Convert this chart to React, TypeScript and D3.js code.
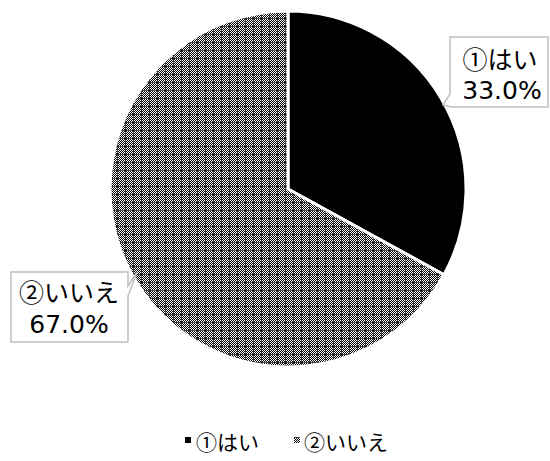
import React from "react";
import * as d3 from "d3";

const categories = ["①はい", "②いいえ"];
const values = [33.0, 67.0];
const pctLabels = ["33.0%", "67.0%"];

const W = 550, H = 461;
const cx = 288, cy = 189, R = 178;
const JFONT = "'Noto Sans CJK JP', sans-serif";
const NFONT = "'DejaVu Sans', sans-serif";

const tile = [
  "BWBWBGBW",
  "WBWBWGWB",
  "BWBWBGBW",
  "WBWBWGWB",
  "BWBWBGBW",
  "GGGGGBGG",
  "BWBWBGBW",
  "WBWBWGWB",
];
const colMap: Record<string, string> = { B: "#000", W: "#fff", G: "#444" };

export default function App() {
  const pie = d3.pie<number>().sort(null).value((d) => d);
  const arcs = pie(values);
  const arc = d3.arc<d3.PieArcDatum<number>>().innerRadius(0).outerRadius(R);
  const fills = ["#000", "url(#pat)"];

  return (
    <svg width={W} height={H} style={{ position: "absolute", left: 0, top: 0, background: "#fff" }}>
      <defs>
        <pattern id="pat" patternUnits="userSpaceOnUse" width={8} height={8}>
          {tile.flatMap((row, y) =>
            row.split("").map((c, x) => (
              <rect key={`${x}-${y}`} x={x} y={y} width={1} height={1} fill={colMap[c]} shapeRendering="crispEdges" />
            ))
          )}
        </pattern>
      </defs>
      <g transform={`translate(${cx},${cy})`}>
        {arcs.map((a, i) => (
          <path key={i} d={arc(a) || ""} fill={fills[i]} stroke="#fff" strokeWidth={3} strokeLinejoin="round" />
        ))}
      </g>
      {/* label 1 */}
      <path d="M450,37 H548 V107 H452 L443,105 L450,94 Z" fill="#fff" stroke="#bfbfbf" strokeWidth={1.5} />
      <text x={500} y={69} textAnchor="middle" fontFamily={JFONT} fontSize={25} fill="#000">{categories[0]}</text>
      <text x={502} y={99} textAnchor="middle" fontFamily={NFONT} fontSize={25} fill="#000">{pctLabels[0]}</text>
      {/* label 2 */}
      <path d="M11,272 H128 V286 L137,272 L128,296 V342 H11 Z" fill="#fff" stroke="#bfbfbf" strokeWidth={1.5} />
      <text x={69} y={302} textAnchor="middle" fontFamily={JFONT} fontSize={25} fill="#000">{categories[1]}</text>
      <text x={69} y={333} textAnchor="middle" fontFamily={NFONT} fontSize={25} fill="#000">{pctLabels[1]}</text>
      {/* legend */}
      <rect x={185} y={437} width={6} height={6} fill={fills[0]} />
      <text x={196} y={450} fontFamily={JFONT} fontSize={21} fill="#000">{categories[0]}</text>
      <rect x={294} y={437} width={6} height={6} fill={fills[1]} />
      <text x={304} y={450} fontFamily={JFONT} fontSize={21} fill="#000">{categories[1]}</text>
    </svg>
  );
}
